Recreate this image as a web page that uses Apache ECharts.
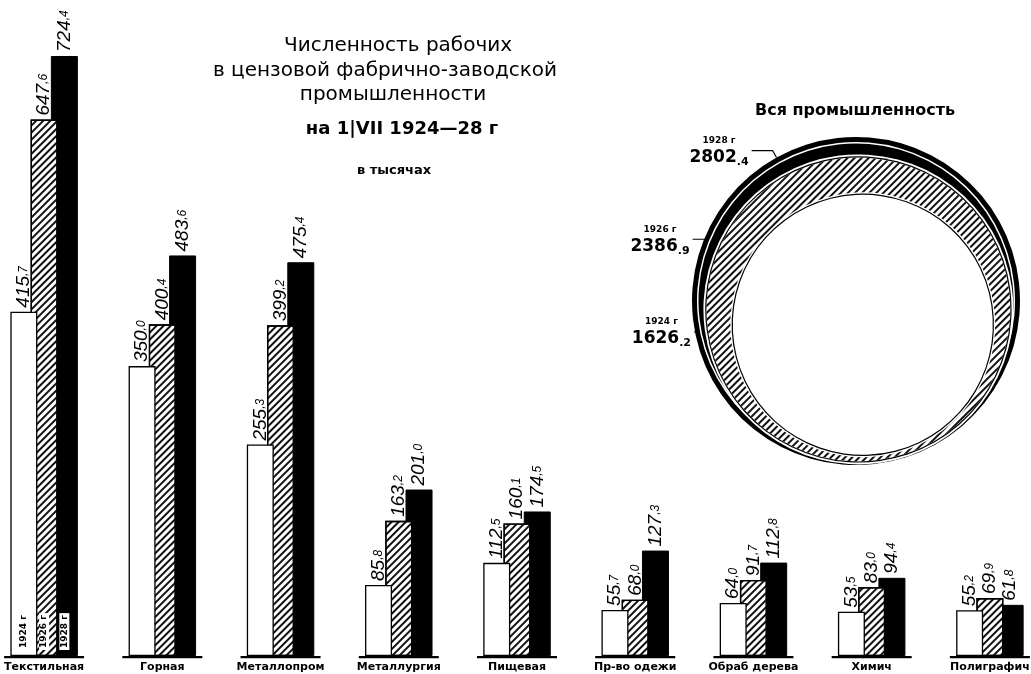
<!DOCTYPE html>
<html><head><meta charset="utf-8">
<script src="https://cdn.jsdelivr.net/npm/echarts@6/dist/echarts.min.js"></script>
<style>html,body{margin:0;background:#fff}#c{width:1031px;height:674px}</style>
</head><body><div id="c"></div>
<script>
const categories = ['Текстильная','Горная','Металлопром','Металлургия','Пищевая','Пр-во одежи','Обраб дерева','Химич','Полиграфич'];
const years = ['1924 г','1926 г','1928 г'];
const v1924 = [415.7,350.0,255.3,85.8,112.5,55.7,64.0,53.5,55.2];
const v1926 = [647.6,400.4,399.2,163.2,160.1,68.0,91.7,83.0,69.9];
const v1928 = [724.4,483.6,475.4,201.0,174.5,127.3,112.8,94.4,61.8];
const totalYears = ['1928 г','1926 г','1924 г'];
const totals = [2802.4,2386.9,1626.2];
const titleLines = ['Численность рабочих','в цензовой фабрично-заводской','промышленности','на 1|VII 1924—28 г','в тысячах'];
const circleTitle = 'Вся промышленность';

const numFont = "'Liberation Sans','DejaVu Sans'";
const txtFont = "'DejaVu Sans'";
const hatch = {symbol:'rect', symbolSize:1, dashArrayX:[1,0], dashArrayY:[1.4,2.1], rotation:-Math.PI/4, color:'#111'};

function fmt(p){
  const s = Number(p.value).toFixed(1).split('.');
  return '{i|' + s[0] + '}{d|,' + s[1] + '}';
}
const valLabel = {
  show:true, position:'top', rotate:90, align:'left', verticalAlign:'middle', distance:4,
  formatter:fmt, color:'#000',
  rich:{ i:{fontSize:19, fontStyle:'italic', fontFamily:numFont, color:'#000'},
         d:{fontSize:12, fontStyle:'italic', fontFamily:numFont, color:'#000'} }
};
const barW = 27, barGap = '-25%';
const yearStyles = [
  {color:'#fff', borderColor:'#000', borderWidth:1.3},
  {color:'#fff', borderColor:'#000', borderWidth:1.3, decal:hatch},
  {color:'#000', borderColor:'#000', borderWidth:1}
];
const yearValues = [v1924, v1926, v1928];
const series = [];
years.forEach((y, k) => {
  series.push({
    name: y + ' tag', type:'bar', stack:'s'+k, barWidth:barW, barGap:barGap, z:10 - k,
    silent:true, itemStyle:{color:'transparent'},
    data: categories.map((c,i) => i === 0 ? 0 : '-'),
    label:{show:true, position:'top', rotate:90, align:'left', verticalAlign:'middle', distance:6,
      formatter: y, fontSize:9, fontWeight:'bold', fontFamily:txtFont, color:'#000',
      backgroundColor:'#fff', padding:[1,2,0,2]}
  });
  series.push({
    name: y, type:'bar', stack:'s'+k, barWidth:barW, barGap:barGap, z:6 - k,
    itemStyle: yearStyles[k], data: yearValues[k], label: valLabel, silent:true
  });
});
series.push({
  name:'base', type:'bar', xAxisIndex:1, barWidth:80, silent:true, z:1,
  itemStyle:{color:'#000'}, data: categories.map(() => -2.6)
});

// whole-industry circles: linear radius scale
const rScale = echarts.number.linearMap;
const R = 164, cx0 = 856, by = 465;
function geo(v){
  const r = rScale(v, [totals[2], totals[0]], [130, R]);
  const d = R - r;
  return {r, cx: cx0 + d*0.2, cy: by - r - d*0.3};
}
const midAngles = [119, 154, 183];
const lineLen2 = [21, 22, 31];
function disc(v, dr, color, decal, withLabel, idx){
  const g = geo(v);
  const s = {
    type:'pie', silent:true, center:[g.cx, g.cy], radius:[0, g.r + dr], avoidLabelOverlap:false,
    startAngle: midAngles[idx] + 180, clockwise:true,
    itemStyle:{color, decal: decal || undefined, borderWidth:0},
    label:{show:false}, labelLine:{show:false}, emphasis:{disabled:true},
    data:[{value:v, name: totalYears[idx]}]
  };
  if (withLabel){
    const parts = v.toFixed(1).split('.');
    s.label = {show:true, position:'outside', color:'#000', distanceToLabelLine:3,
      formatter: '{y|' + totalYears[idx] + '}\n{v|' + parts[0] + '}{s|.' + parts[1] + '}',
      rich:{ y:{fontSize:9, fontWeight:'bold', fontFamily:txtFont, align:'center', lineHeight:14},
             v:{fontSize:17, fontWeight:'bold', fontFamily:txtFont, lineHeight:20},
             s:{fontSize:11, fontWeight:'bold', fontFamily:txtFont, lineHeight:20, verticalAlign:'bottom'} } };
    s.labelLine = {show:true, length:8, length2:lineLen2[idx], lineStyle:{color:'#000', width:1.2}};
  }
  return s;
}
series.push(disc(totals[0], 0, '#000', null, true, 0));
series.push(disc(totals[0], -5, '#fff', null, false, 0));
series.push(disc(totals[0], -6.5, '#000', null, false, 0));
series.push(disc(totals[1], 3, '#fff', null, false, 1));
series.push(disc(totals[1], 1.2, '#000', null, false, 1));
series.push(disc(totals[1], 0, '#fff', hatch, true, 1));
series.push(disc(totals[2], 2.5, '#fff', null, false, 2));
series.push(disc(totals[2], 1.2, '#000', null, false, 2));
series.push(disc(totals[2], 0, '#fff', null, true, 2));

const titleX = [398, 385, 393, 402, 394];
const titleY = [46, 71, 95, 129, 171];
const titleFont = ['normal 20px', 'normal 20px', 'normal 20px', 'bold 18px', 'bold 13px'];
const graphic = titleLines.map((t, i) => ({
  type:'text', x:titleX[i], y:titleY[i], silent:true,
  style:{text:t, fill:'#000', font: titleFont[i] + ' ' + txtFont, textAlign:'center', textVerticalAlign:'middle'}
}));
graphic.push({type:'text', x:855, y:111, silent:true,
  style:{text:circleTitle, fill:'#000', font:'bold 16px ' + txtFont, textAlign:'center', textVerticalAlign:'middle'}});

const chart = echarts.init(document.getElementById('c'), null, {renderer:'canvas'});
chart.setOption({
  animation:false,
  backgroundColor:'#fff',
  grid:{left:-15, right:-18, top:0, bottom:9.7, outerBoundsMode:'none', containLabel:false},
  xAxis:[
    {type:'category', data:categories, axisLine:{show:false}, axisTick:{show:false},
     axisLabel:{interval:0, fontSize:11, fontWeight:'bold', fontFamily:txtFont, color:'#000', margin:-3}},
    {type:'category', data:categories, show:false}
  ],
  yAxis:{type:'value', min:-10, max:792, show:false},
  graphic: graphic,
  series: series
});
</script></body></html>
